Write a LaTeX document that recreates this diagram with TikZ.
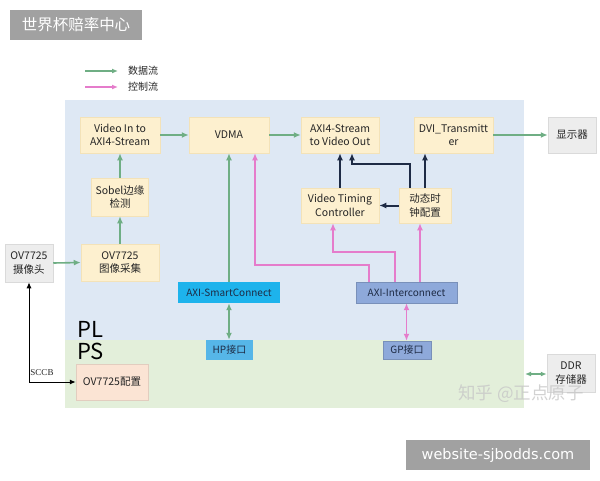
\documentclass[tikz,border=0pt]{standalone}
\usepackage{fontspec}
\setmainfont{Noto Sans CJK SC}
\newfontfamily\serifw{Liberation Serif}
\newfontfamily\webf{DejaVu Sans}
\usetikzlibrary{arrows.meta}
\definecolor{plfill}{HTML}{DEE8F4}
\definecolor{psfill}{HTML}{E3EFDA}
\definecolor{ybox}{HTML}{FDF0CF}
\definecolor{ybord}{HTML}{F3E2B8}
\definecolor{gbox}{HTML}{EDEDED}
\definecolor{gbord}{HTML}{DADADA}
\definecolor{datag}{HTML}{6FAE84}
\definecolor{ctrlp}{HTML}{E57CCB}
\definecolor{navy}{HTML}{1E2B45}
\definecolor{cyanb}{HTML}{1DB3EC}
\definecolor{hpb}{HTML}{56B6E8}
\definecolor{interb}{HTML}{8EA9DA}
\definecolor{peach}{HTML}{FBE4D4}
\definecolor{txt}{HTML}{262626}
\tikzset{
  box/.style={draw=ybord, fill=ybox, line width=0.5pt, align=center, inner sep=1pt,
    text=txt, font=\fontsize{10.5}{13.5}\selectfont},
  gbx/.style={draw=gbord, fill=gbox, line width=0.5pt, align=center, inner sep=1pt,
    text=txt, font=\fontsize{10.5}{13.5}\selectfont},
  flat/.style={align=center, inner sep=1pt, font=\fontsize{10}{12}\selectfont},
  tip/.style={-{Latex[length=7pt,width=6pt]}},
  dtip/.style={{Latex[length=7pt,width=6pt]}-{Latex[length=7pt,width=6pt]}},
  data/.style={datag, line width=1.6pt},
  ctrl/.style={ctrlp, line width=1.6pt},
  clkw/.style={navy, line width=2pt},
}
\begin{document}
\begin{tikzpicture}[x=1pt,y=-1pt]
\useasboundingbox (0,0) rectangle (600,480);
\fill[white] (0,0) rectangle (600,480);
% regions
\fill[plfill] (65,100) rectangle (524,340);
\fill[psfill] (65,340) rectangle (524,408);
\node[font=\fontsize{22}{23}\selectfont, anchor=west, inner sep=0pt, text=black] (pl) at (77,329) {PL};
\node[font=\fontsize{22}{23}\selectfont, anchor=west, inner sep=0pt, text=black] (ps) at (77,351) {PS};
% watermark top-left
\node[fill=black!37, minimum width=132pt, minimum height=30pt, inner sep=0pt, text=white,
  font=\fontsize{15.5}{16}\selectfont] (wm1) at (76,25) {世界杯赔率中心};
% legend
\coordinate (la1) at (85,71); \coordinate (la2) at (118,71);
\coordinate (lb1) at (85,87); \coordinate (lb2) at (118,87);
\draw[data, line width=1.2pt, -{Latex[length=6pt,width=5pt]}] (la1) -- (la2);
\draw[ctrl, line width=1.2pt, -{Latex[length=6pt,width=5pt]}] (lb1) -- (lb2);
\node[anchor=west, inner sep=0pt, font=\fontsize{10}{11}\selectfont, text=txt] (lt1) at (128,71) {数据流};
\node[anchor=west, inner sep=0pt, font=\fontsize{10}{11}\selectfont, text=txt] (lt2) at (128,87) {控制流};
% boxes
\node[box, minimum width=80pt, minimum height=36pt] (vin) at (120,135) {Video In to\\AXI4-Stream};
\node[box, minimum width=80pt, minimum height=36pt] (vdma) at (229,135) {VDMA};
\node[box, minimum width=78pt, minimum height=36pt] (sout) at (340,135) {AXI4-Stream\\to Video Out};
\node[box, minimum width=79pt, minimum height=36pt] (dvi) at (453.5,135) {DVI\_Transmitt\\er};
\node[gbx, minimum width=48pt, minimum height=36pt] (disp) at (572,135) {显示器};
\node[box, minimum width=57pt, minimum height=38pt] (sobel) at (120,197) {Sobel边缘\\检测};
\node[box, minimum width=78pt, minimum height=37pt] (cap) at (120,262.5) {OV7725\\图像采集};
\node[box, minimum width=78pt, minimum height=35pt] (vtc) at (340,205.5) {Video Timing\\Controller};
\node[box, minimum width=52pt, minimum height=35pt] (clk) at (425,205.5) {动态时\\钟配置};
\node[flat, fill=cyanb, text=navy, minimum width=102pt, minimum height=21pt] (smart) at (229,292.5) {AXI-SmartConnect};
\node[flat, fill=interb, draw=interb!85!black, text=navy, minimum width=101pt, minimum height=21pt] (inter) at (406.5,292.5) {AXI-Interconnect};
\node[flat, fill=hpb, text=navy, minimum width=47pt, minimum height=20pt] (hp) at (229.5,350) {HP接口};
\node[flat, fill=interb, draw=interb!85!black, text=navy, minimum width=48pt, minimum height=18pt] (gp) at (407,350) {GP接口};
\node[gbx, minimum width=48pt, minimum height=38pt] (cam) at (29,263) {OV7725\\摄像头};
\node[box, fill=peach, draw=peach!90!black, minimum width=72pt, minimum height=36pt] (cfg) at (112,382) {OV7725配置};
\node[gbx, minimum width=48pt, minimum height=38pt] (ddr) at (571,373) {DDR\\存储器};
% data arrows
\draw[data, tip] (vin.east) -- (vdma.west);
\draw[data, tip] (vdma.east) -- (sout.west);
\draw[data, tip] (dvi.east) -- (disp.west);
\draw[data, tip] (sobel.north) -- (vin.south);
\draw[data, tip] (cap.north) -- (sobel.south);
\draw[data, tip] (cam.east) -- (cap.west);
\draw[data, tip] (smart.north) -- (vdma.south);
\draw[data, dtip] (smart.south) -- (smart.south |- hp.north);
\coordinate (psr) at (525,374);
\draw[data, line width=1.3pt, {Latex[length=6pt,width=5pt]}-{Latex[length=6pt,width=5pt]}] (psr) -- (psr -| ddr.west);
% control arrows
\draw[ctrl, tip] ([xshift=-37.5pt]inter.north) -- ++(0,-17) -| ([xshift=26pt]vdma.south);
\draw[ctrl, tip] ([xshift=-11.5pt]inter.north) -- ++(0,-30) -| ([xshift=-7pt]vtc.south);
\draw[ctrl, tip] ([xshift=13.5pt]inter.north) -- ([xshift=-5pt]clk.south);
\draw[ctrl, dtip] (inter.south) -- (inter.south |- gp.north);
% clock arrows
\draw[clkw, tip] (vtc.north) -- (sout.south);
\draw[clkw, tip] ([xshift=-15pt]clk.north) -- ++(0,-24) -| ([xshift=12pt]sout.south);
\draw[clkw, tip] (clk.north) -- (clk.north |- dvi.south);
\draw[clkw, tip] (clk.west) -- (vtc.east);
% SCCB
\draw[black, line width=1pt, {Latex[length=6pt,width=5pt]}-{Latex[length=6pt,width=5pt]}] (cam.south) |- (cfg.west);
\node[font=\serifw\fontsize{9}{10}\selectfont, text=txt, inner sep=0pt] (sccb) at (42,373) {SCCB};
% watermarks
\node[text=black!22, opacity=0.8, font=\fontsize{17.5}{18}\selectfont, inner sep=0pt] (wm2) at (521,394) {知乎 @正点原子};
\node[fill=black!37, minimum width=184pt, minimum height=30pt, inner sep=0pt, text=white,
  font=\webf\fontsize{14.5}{16}\selectfont] (wm3) at (498,455) {website-sjbodds.com};
\end{tikzpicture}
\end{document}
